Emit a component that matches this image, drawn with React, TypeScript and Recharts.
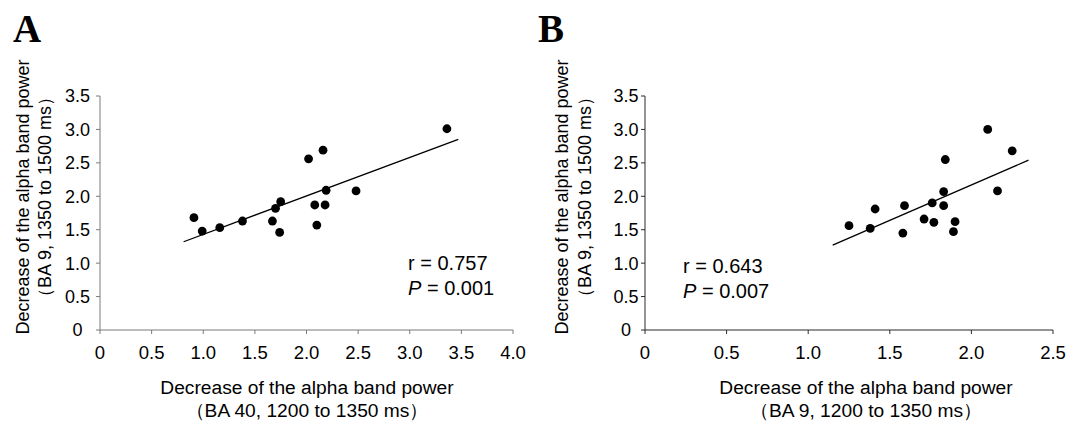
import React from 'react';
import { ScatterChart, Scatter, XAxis, YAxis, ReferenceLine } from 'recharts';

// panel A: BA 40 (x) vs BA 9 (y)
const aX = [0.91, 0.99, 1.16, 1.38, 1.67, 1.7, 1.75, 1.74, 2.02, 2.16, 2.08, 2.1, 2.18, 2.19, 2.48, 3.36];
const aY = [1.68, 1.48, 1.53, 1.63, 1.63, 1.82, 1.92, 1.46, 2.56, 2.69, 1.87, 1.57, 1.87, 2.09, 2.08, 3.01];
const aTrendX = [0.81, 3.47];
const aTrendY = [1.32, 2.85];

// panel B: BA 9 (x) vs BA 9 (y)
const bX = [1.25, 1.38, 1.41, 1.58, 1.59, 1.71, 1.76, 1.77, 1.83, 1.83, 1.84, 1.89, 1.9, 2.1, 2.16, 2.25];
const bY = [1.56, 1.52, 1.81, 1.45, 1.86, 1.66, 1.9, 1.61, 2.07, 1.86, 2.55, 1.47, 1.62, 3.0, 2.08, 2.68];
const bTrendX = [1.15, 2.35];
const bTrendY = [1.27, 2.54];

const yTicks = [0, 0.5, 1.0, 1.5, 2.0, 2.5, 3.0, 3.5];
const aXTicks = [0, 0.5, 1.0, 1.5, 2.0, 2.5, 3.0, 3.5, 4.0];
const bXTicks = [0, 0.5, 1.0, 1.5, 2.0, 2.5];

const yLabel = ['Decrease of the alpha band power', '（BA 9, 1350 to 1500 ms）'];
const aXLabel = ['Decrease of the alpha band power', '（BA 40, 1200 to 1350 ms）'];
const bXLabel = ['Decrease of the alpha band power', '（BA 9, 1200 to 1350 ms）'];

const SANS = '"Liberation Sans", Arial, sans-serif';
const fmt = (v: number) => (v === 0 ? '0' : v.toFixed(1));

function toPoints(xs: number[], ys: number[]) {
  return xs.map((x, i) => ({ x, y: ys[i] }));
}

function Dot(props: any) {
  return <circle cx={props.cx} cy={props.cy} r={4.4} fill="#000" />;
}

function YTick({ x, y, payload, shift }: any) {
  return (
    <text x={x - shift} y={y} dy="0.355em" textAnchor="middle" fontSize={18} fontFamily={SANS} fill="#000">
      {fmt(payload.value)}
    </text>
  );
}

interface PanelProps {
  left: number;
  width: number;
  marginLeft: number;
  marginRight: number;
  points: { x: number; y: number }[];
  trendX: number[];
  trendY: number[];
  xMax: number;
  xTicks: number[];
  axisColor: string;
  tickShift: number;
  title: string;
  titleX: number;
  yLabelX: number[];
  xLabel: string[];
  xLabelCx: number;
  stats: string[];
  statsX: number;
  statsY: number;
}

function Panel(p: PanelProps) {
  const sideText = () => (
    <g>
      <text x={p.titleX} y={42} fontFamily='"Liberation Serif", "Times New Roman", serif' fontWeight="bold" fontSize={39} fill="#000">
        {p.title}
      </text>
      {yLabel.map((t, i) => (
        <text
          key={i}
          x={p.yLabelX[i]}
          y={197}
          transform={`rotate(-90 ${p.yLabelX[i]} 197)`}
          textAnchor="middle"
          dominantBaseline="central"
          fontSize={18}
          fontFamily={SANS}
          fill="#000"
        >
          {t}
        </text>
      ))}
      <text x={p.statsX} y={p.statsY} dominantBaseline="central" fontSize={20} fontFamily={SANS} fill="#000">
        {p.stats[0]}
      </text>
      <text x={p.statsX} y={p.statsY + 25} dominantBaseline="central" fontSize={20} fontFamily={SANS} fill="#000">
        <tspan fontStyle="italic">P</tspan>
        {p.stats[1]}
      </text>
    </g>
  );
  const bottomText = () => (
    <g>
      {p.xLabel.map((t, i) => (
        <text
          key={i}
          x={p.xLabelCx}
          y={387 + i * 23}
          textAnchor="middle"
          dominantBaseline="central"
          fontSize={19.2}
          fontFamily={SANS}
          fill="#000"
        >
          {t}
        </text>
      ))}
    </g>
  );

  return (
    <div style={{ position: 'absolute', left: p.left, top: 0 }}>
      <ScatterChart
        width={p.width}
        height={426}
        margin={{ top: 96, right: p.marginRight, bottom: 66, left: p.marginLeft }}
      >
        <XAxis
          type="number"
          dataKey="x"
          domain={[0, p.xMax]}
          ticks={p.xTicks}
          tickFormatter={fmt}
          height={30}
          tickSize={4}
          tickMargin={12}
          stroke={p.axisColor}
          tick={{ fill: '#000', fontSize: 18.5, fontFamily: SANS }}
          label={{ content: bottomText }}
        />
        <YAxis
          type="number"
          dataKey="y"
          domain={[0, 3.5]}
          ticks={yTicks}
          width={40}
          tickSize={4}
          tickMargin={0}
          stroke={p.axisColor}
          tick={<YTick shift={p.tickShift} />}
          label={{ content: sideText }}
        />
        <ReferenceLine
          segment={[
            { x: p.trendX[0], y: p.trendY[0] },
            { x: p.trendX[1], y: p.trendY[1] },
          ]}
          stroke="#000"
          strokeWidth={1.3}
          ifOverflow="visible"
        />
        <Scatter data={p.points} shape={<Dot />} isAnimationActive={false} />
      </ScatterChart>
    </div>
  );
}

export default function App() {
  return (
    <div style={{ position: 'absolute', left: 0, top: 0, width: 1071, height: 426, background: '#fff' }}>
      <Panel
        left={0}
        width={535}
        marginLeft={60}
        marginRight={22}
        points={toPoints(aX, aY)}
        trendX={aTrendX}
        trendY={aTrendY}
        xMax={4}
        xTicks={aXTicks}
        axisColor="#7a7a7a"
        tickShift={18.5}
        title="A"
        titleX={13}
        yLabelX={[23, 45]}
        xLabel={aXLabel}
        xLabelCx={307}
        stats={['r = 0.757', ' = 0.001']}
        statsX={408}
        statsY={263}
      />
      <Panel
        left={535}
        width={536}
        marginLeft={70}
        marginRight={18}
        points={toPoints(bX, bY)}
        trendX={bTrendX}
        trendY={bTrendY}
        xMax={2.5}
        xTicks={bXTicks}
        axisColor="#2a2a2a"
        tickShift={15}
        title="B"
        titleX={3}
        yLabelX={[27, 50]}
        xLabel={bXLabel}
        xLabelCx={331}
        stats={['r = 0.643', ' = 0.007']}
        statsX={148}
        statsY={266}
      />
    </div>
  );
}
